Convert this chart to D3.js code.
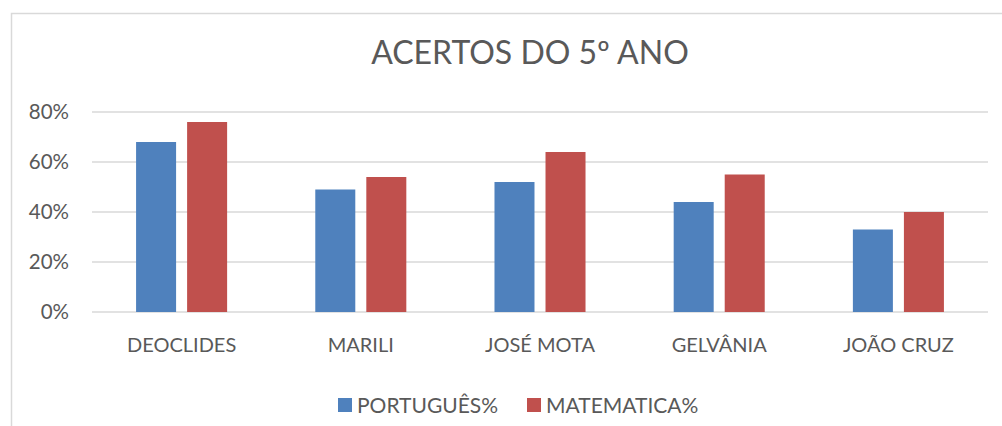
<!DOCTYPE html>
<html>
<head>
<meta charset="utf-8">
<script src="https://cdn.jsdelivr.net/npm/d3@7"></script>
<style>
  body { margin: 0; background: #fff; }
  text { font-family: Lato, "Open Sans", sans-serif; fill: #595959; }
</style>
</head>
<body>
<div id="chart"></div>
<script>
var categories = ["DEOCLIDES", "MARILI", "JOSÉ MOTA", "GELVÂNIA", "JOÃO CRUZ"];
var series = ["PORTUGUÊS%", "MATEMATICA%"];
var portugues = [0.68, 0.49, 0.52, 0.44, 0.33];
var matematica = [0.76, 0.54, 0.64, 0.55, 0.40];
var yTicks = [0, 0.2, 0.4, 0.6, 0.8];
var colors = ["#4f81bd", "#c0504d"];

var W = 1002, H = 426;
var margin = {top: 112, right: 14, bottom: 114, left: 92};

var svg = d3.select("#chart").append("svg").attr("width", W).attr("height", H);

// chart frame (right and bottom edges fall outside the picture)
svg.append("rect").attr("x", 11.5).attr("y", 13.5).attr("width", 1100).attr("height", 600)
  .attr("fill", "none").attr("stroke", "#d9d9d9").attr("stroke-width", 1.5);

var x0 = d3.scaleBand().domain(categories).range([margin.left, W - margin.right])
  .paddingInner(0.492).paddingOuter(0.246);
var x1 = d3.scaleBand().domain(series).range([0, x0.bandwidth()]).paddingInner(0.216);
var y = d3.scaleLinear().domain([0, 0.8]).range([H - margin.bottom, margin.top]);

// gridlines
svg.append("g").selectAll("line").data(yTicks).enter().append("line")
  .attr("x1", margin.left).attr("x2", W - margin.right)
  .attr("y1", function(d) { return y(d); }).attr("y2", function(d) { return y(d); })
  .attr("stroke", "#d9d9d9").attr("stroke-width", 1.5);

// y labels
svg.append("g").selectAll("text").data(yTicks).enter().append("text")
  .attr("x", 69).attr("y", function(d) { return y(d); }).attr("dy", "0.36em")
  .attr("text-anchor", "end").style("font-size", "20.5px")
  .text(d3.format(".0%"));

// bars
var rows = categories.map(function(c, i) { return {cat: c, vals: [portugues[i], matematica[i]]}; });
var groups = svg.append("g").selectAll("g").data(rows).enter().append("g")
  .attr("transform", function(d) { return "translate(" + x0(d.cat) + ",0)"; });
groups.selectAll("rect").data(function(d) { return d.vals.map(function(v, j) { return {s: series[j], v: v, j: j}; }); })
  .enter().append("rect")
  .attr("x", function(d) { return x1(d.s); }).attr("width", x1.bandwidth())
  .attr("y", function(d) { return y(d.v); }).attr("height", function(d) { return y(0) - y(d.v); })
  .attr("fill", function(d) { return colors[d.j]; });

// category labels
svg.append("g").selectAll("text").data(categories).enter().append("text")
  .attr("x", function(d) { return x0(d) + x0.bandwidth() / 2; }).attr("y", 351.5)
  .attr("text-anchor", "middle").style("font-size", "20px")
  .text(function(d) { return d; });

// title
svg.append("text").attr("x", 530).attr("y", 64).attr("text-anchor", "middle")
  .style("font-size", "32px").text("ACERTOS DO 5º ANO");

// legend
var legX = [338, 527];
var leg = svg.append("g").selectAll("g").data(series).enter().append("g")
  .attr("transform", function(d, i) { return "translate(" + legX[i] + ",398)"; });
leg.append("rect").attr("width", 14).attr("height", 14).attr("fill", function(d, i) { return colors[i]; });
leg.append("text").attr("x", 19).attr("y", 15).style("font-size", "21px").text(function(d) { return d; });
</script>
</body>
</html>
